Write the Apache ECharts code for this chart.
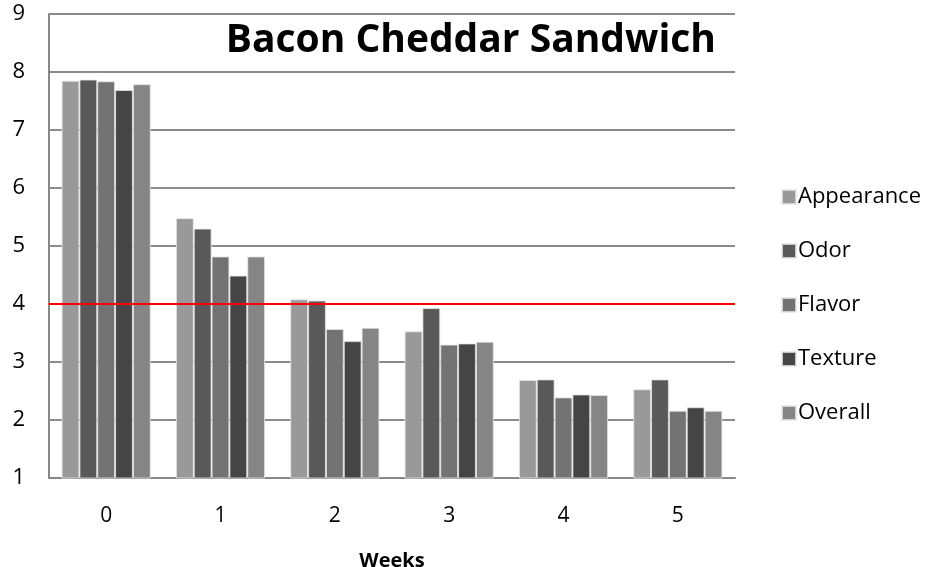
<!DOCTYPE html>
<html>
<head>
<meta charset="utf-8">
<script src="https://cdn.jsdelivr.net/npm/echarts@6/dist/echarts.min.js"></script>
<style>
  html, body { margin: 0; padding: 0; background: #fff; }
  #chart { width: 930px; height: 567px; }
</style>
</head>
<body>
<div id="chart"></div>
<script>
// Sensory scores of a bacon cheddar sandwich over storage weeks
const weeks = ['0', '1', '2', '3', '4', '5'];
const appearance = [7.85, 5.48, 4.08, 3.53, 2.69, 2.53];
const odor       = [7.87, 5.30, 4.06, 3.93, 2.70, 2.70];
const flavor     = [7.84, 4.82, 3.57, 3.30, 2.39, 2.16];
const texture    = [7.69, 4.49, 3.36, 3.32, 2.44, 2.22];
const overall    = [7.79, 4.82, 3.59, 3.35, 2.43, 2.16];
const threshold = 4;

const seriesDefs = [
  { name: 'Appearance', data: appearance, color: '#999999' },
  { name: 'Odor',       data: odor,       color: '#595959' },
  { name: 'Flavor',     data: flavor,     color: '#737373' },
  { name: 'Texture',    data: texture,    color: '#454545' },
  { name: 'Overall',    data: overall,    color: '#858585' }
];

const font = '"Open Sans", sans-serif';

const series = seriesDefs.map((s, i) => ({
  name: s.name,
  type: 'bar',
  data: s.data,
  barGap: '0%',
  barCategoryGap: '22%',
  itemStyle: { color: s.color, borderColor: 'rgba(230,230,230,0.8)', borderWidth: 1 },
  emphasis: { disabled: true },
  markLine: i === 0 ? {
    silent: true,
    symbol: 'none',
    label: { show: false },
    lineStyle: { color: '#ff0000', width: 2, type: 'solid' },
    data: [{ yAxis: threshold }]
  } : undefined
}));

const chart = echarts.init(document.getElementById('chart'));
chart.setOption({
  animation: false,
  backgroundColor: '#ffffff',
  title: {
    text: 'Bacon Cheddar Sandwich',
    right: 209,
    top: 16,
    textStyle: { fontFamily: font, fontWeight: 'bold', fontSize: 39, color: '#000' }
  },
  legend: {
    orient: 'vertical',
    left: 776,
    top: 181,
    itemWidth: 14,
    itemHeight: 14,
    itemGap: 32,
    icon: 'rect',
    textStyle: { fontFamily: font, fontSize: 22, color: '#000', padding: [0, 0, 0, -3] },
    data: seriesDefs.map(s => s.name)
  },
  grid: { left: 49, top: 14, right: 195, bottom: 89, containLabel: false, outerBoundsMode: 'none' },
  xAxis: {
    type: 'category',
    data: weeks,
    name: 'Weeks',
    nameLocation: 'middle',
    nameGap: 73,
    nameTextStyle: { fontFamily: font, fontWeight: 'bold', fontSize: 20, color: '#000' },
    axisLine: { lineStyle: { color: '#888888', width: 2 } },
    axisTick: { show: false },
    axisLabel: { fontFamily: font, fontSize: 21, color: '#000', margin: 28 }
  },
  yAxis: {
    type: 'value',
    min: 1,
    max: 9,
    interval: 1,
    axisLine: { show: true, lineStyle: { color: '#888888', width: 2 } },
    axisTick: { show: false },
    axisLabel: { fontFamily: font, fontSize: 22, color: '#000', margin: 24 },
    splitLine: { lineStyle: { color: '#8c8c8c', width: 2 } }
  },
  series: series
});
</script>
</body>
</html>
